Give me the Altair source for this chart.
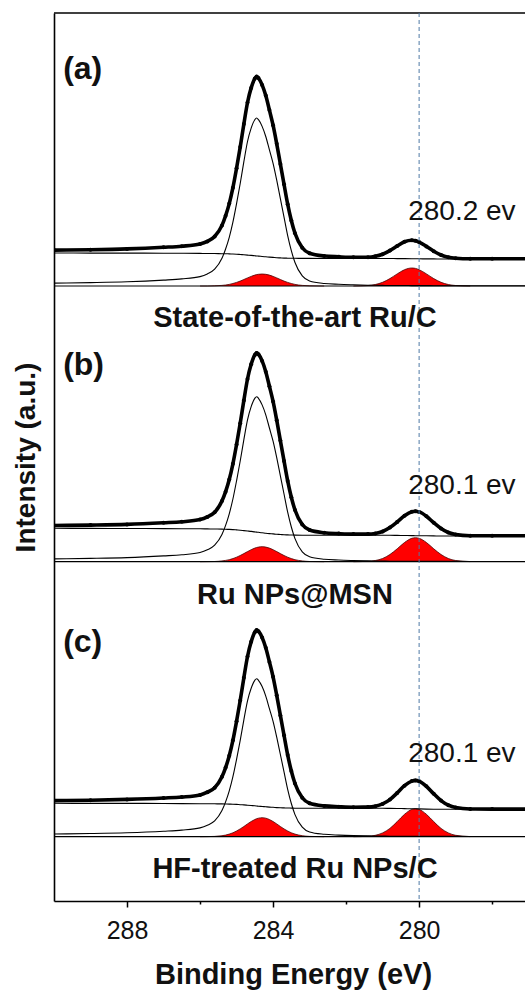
import altair as alt
import pandas as pd

# Binding energy grid (eV)
energy = [290.0, 289.0, 288.0, 287.0, 286.5, 286.0, 285.8, 285.6, 285.4, 285.3,
          285.2, 285.1, 285.0, 284.9, 284.8, 284.7, 284.6, 284.5, 284.45, 284.4,
          284.3, 284.2, 284.1, 284.0, 283.9, 283.8, 283.7, 283.6, 283.5, 283.4,
          283.2, 283.0, 282.6, 282.2, 281.8, 281.4, 281.2, 281.0, 280.8, 280.6,
          280.4, 280.2, 280.1, 280.0, 279.8, 279.6, 279.4, 279.2, 279.0, 278.6,
          278.0, 277.0]

panels = ["a", "b", "c"]
offsets = [615.0, 339.3, 64.3]          # vertical stacking offsets (a.u.)

# measured envelope (dotted thick curve), relative to each panel's offset
envelope_a = [35.9, 36.3, 37.1, 38.7, 39.8, 42.0, 44.6, 49.5, 60.6, 70.3,
              82.4, 98.3, 117.7, 138.9, 162.0, 183.5, 198.1, 207.4, 209.4, 207.9,
              201.1, 190.4, 175.9, 160.8, 142.2, 122.0, 101.7, 81.8, 65.5, 52.8,
              38.3, 32.8, 30.0, 29.2, 28.7, 28.8, 29.7, 31.8, 35.4, 40.0,
              44.2, 45.7, 45.2, 43.9, 39.6, 34.8, 31.0, 28.8, 27.8, 27.2,
              27.2, 27.2]
envelope_b = [36.2, 36.6, 37.3, 38.9, 39.9, 42.1, 44.8, 49.4, 60.6, 70.0,
              82.2, 97.9, 117.2, 138.4, 161.3, 182.7, 197.4, 206.8, 208.8, 207.4,
              200.8, 190.0, 175.4, 160.3, 141.5, 121.1, 100.8, 80.8, 64.5, 51.7,
              37.2, 31.7, 29.0, 28.1, 27.6, 27.6, 28.3, 30.2, 34.1, 39.7,
              45.9, 49.9, 50.4, 49.8, 45.5, 39.0, 33.2, 29.2, 27.2, 26.0,
              25.9, 25.9]
envelope_c = [36.1, 36.5, 37.3, 38.7, 39.7, 41.8, 44.5, 49.0, 59.9, 69.1,
              81.0, 96.4, 115.4, 136.2, 158.9, 180.2, 194.9, 204.5, 206.7, 205.4,
              199.3, 189.0, 174.8, 159.9, 141.4, 121.3, 101.4, 81.8, 65.7, 53.2,
              39.0, 33.5, 30.8, 30.0, 29.5, 29.6, 30.5, 32.8, 37.1, 43.8,
              51.0, 55.6, 56.3, 55.5, 50.4, 42.9, 36.1, 31.5, 29.1, 27.7,
              27.6, 27.6]

# Shirley-type background
background_a = [33.0, 32.9, 32.9, 32.8, 32.7, 32.6, 32.5, 32.5, 32.3, 32.3,
                32.1, 32.0, 31.8, 31.5, 31.2, 30.9, 30.6, 30.2, 30.0, 29.9,
                29.5, 29.2, 28.9, 28.6, 28.3, 28.1, 27.9, 27.8, 27.7, 27.7,
                27.6, 27.6, 27.5, 27.5, 27.5, 27.5, 27.5, 27.5, 27.5, 27.4,
                27.4, 27.3, 27.2, 27.2, 27.1, 27.1, 27.0, 27.0, 27.0, 27.0,
                27.0, 27.0]
background_b = [33.4, 33.3, 33.2, 33.1, 33.0, 32.9, 32.8, 32.7, 32.6, 32.4,
                32.3, 32.1, 31.8, 31.5, 31.1, 30.7, 30.3, 29.8, 29.6, 29.4,
                29.0, 28.5, 28.1, 27.8, 27.4, 27.2, 26.9, 26.8, 26.7, 26.6,
                26.5, 26.5, 26.5, 26.4, 26.4, 26.4, 26.4, 26.4, 26.4, 26.3,
                26.2, 26.1, 26.0, 26.0, 25.9, 25.8, 25.7, 25.7, 25.7, 25.7,
                25.7, 25.7]
background_c = [33.4, 33.3, 33.3, 33.2, 33.1, 33.0, 33.0, 32.9, 32.8, 32.7,
                32.6, 32.5, 32.3, 32.0, 31.8, 31.5, 31.2, 30.9, 30.7, 30.5,
                30.2, 29.9, 29.6, 29.4, 29.1, 28.9, 28.8, 28.7, 28.6, 28.5,
                28.5, 28.5, 28.4, 28.4, 28.4, 28.4, 28.4, 28.4, 28.3, 28.2,
                28.1, 27.9, 27.9, 27.8, 27.6, 27.5, 27.5, 27.4, 27.4, 27.4,
                27.4, 27.4]

# main fitted component (thin line)
main_a = [2.9, 3.4, 4.2, 5.9, 7.1, 9.4, 12.1, 16.8, 27.7, 37.0,
          48.7, 63.8, 82.3, 102.5, 124.3, 144.5, 157.9, 166.3, 168.0, 166.3,
          159.6, 149.5, 136.1, 122.6, 105.8, 87.4, 68.9, 50.4, 35.3, 23.5,
          10.1, 5.0, 2.5, 1.7, 1.2, 0.8, 0.7, 0.6, 0.5, 0.5,
          0.5, 0.4, 0.4, 0.4, 0.4, 0.3, 0.3, 0.3, 0.3, 0.2,
          0.2, 0.2]
main_b = [2.8, 3.3, 4.1, 5.8, 6.9, 9.2, 11.9, 16.5, 27.2, 36.3,
          47.9, 62.7, 80.9, 100.7, 122.1, 141.9, 155.1, 163.4, 165.0, 163.4,
          156.8, 146.9, 133.7, 120.5, 104.0, 85.8, 67.7, 49.5, 34.7, 23.1,
          9.9, 5.0, 2.5, 1.7, 1.2, 0.8, 0.7, 0.6, 0.5, 0.5,
          0.5, 0.4, 0.4, 0.4, 0.4, 0.3, 0.3, 0.3, 0.3, 0.2,
          0.2, 0.2]
main_c = [2.7, 3.2, 4.0, 5.5, 6.6, 8.8, 11.4, 15.8, 26.1, 34.8,
          45.8, 60.0, 77.4, 96.4, 116.9, 135.9, 148.5, 156.4, 158.0, 156.4,
          150.1, 140.6, 128.0, 115.3, 99.5, 82.2, 64.8, 47.4, 33.2, 22.1,
          9.5, 4.7, 2.4, 1.6, 1.1, 0.8, 0.7, 0.6, 0.5, 0.5,
          0.5, 0.4, 0.4, 0.4, 0.4, 0.3, 0.3, 0.3, 0.3, 0.2,
          0.2, 0.2]

# red component near 284.3 eV
red1_a = [0, 0, 0, 0, 0, 0, 0.0, 0.2, 0.6, 1.0,
          1.6, 2.5, 3.6, 4.9, 6.5, 8.1, 9.6, 10.9, 11.4, 11.7,
          12.0, 11.7, 10.9, 9.6, 8.1, 6.5, 4.9, 3.6, 2.5, 1.6,
          0.6, 0.2, 0, 0, 0, 0, 0, 0, 0, 0,
          0, 0, 0, 0, 0, 0, 0, 0, 0, 0,
          0, 0]
red1_b = [0, 0, 0, 0, 0, 0, 0.1, 0.2, 0.8, 1.3,
          2.0, 3.1, 4.5, 6.2, 8.1, 10.1, 12.0, 13.6, 14.2, 14.6,
          15.0, 14.6, 13.6, 12.0, 10.1, 8.1, 6.2, 4.5, 3.1, 2.0,
          0.8, 0.2, 0, 0, 0, 0, 0, 0, 0, 0,
          0, 0, 0, 0, 0, 0, 0, 0, 0, 0,
          0, 0]
red1_c = [0, 0, 0, 0, 0, 0, 0.1, 0.3, 1.0, 1.6,
          2.6, 3.9, 5.7, 7.8, 10.2, 12.8, 15.2, 17.2, 18.0, 18.5,
          19.0, 18.5, 17.2, 15.2, 12.8, 10.2, 7.8, 5.7, 3.9, 2.6,
          1.0, 0.3, 0, 0, 0, 0, 0, 0, 0, 0,
          0, 0, 0, 0, 0, 0, 0, 0, 0, 0,
          0, 0]

# red component near 280.1 eV (Ru 3d5/2)
red2_a = [0, 0, 0, 0, 0, 0, 0, 0, 0, 0,
          0, 0, 0, 0, 0, 0, 0, 0, 0, 0,
          0, 0, 0, 0, 0, 0, 0, 0, 0, 0,
          0, 0, 0, 0, 0.0, 0.5, 1.5, 3.7, 7.4, 12.1,
          16.3, 18.0, 17.6, 16.3, 12.1, 7.4, 3.7, 1.5, 0.5, 0.0,
          0, 0]
red2_b = [0, 0, 0, 0, 0, 0, 0, 0, 0, 0,
          0, 0, 0, 0, 0, 0, 0, 0, 0, 0,
          0, 0, 0, 0, 0, 0, 0, 0, 0, 0,
          0, 0, 0, 0, 0.0, 0.4, 1.2, 3.2, 7.2, 12.9,
          19.2, 23.4, 24.0, 23.4, 19.2, 12.9, 7.2, 3.2, 1.2, 0.1,
          0, 0]
red2_c = [0, 0, 0, 0, 0, 0, 0, 0, 0, 0,
          0, 0, 0, 0, 0, 0, 0, 0, 0, 0,
          0, 0, 0, 0, 0, 0, 0, 0, 0, 0,
          0, 0, 0, 0, 0.0, 0.4, 1.4, 3.8, 8.3, 15.1,
          22.4, 27.3, 28.0, 27.3, 22.4, 15.1, 8.3, 3.8, 1.4, 0.1,
          0, 0]

# annotations
panel_tags = ["(a)", "(b)", "(c)"]
tag_y = [832, 536, 259]
sample_names = ["State-of-the-art Ru/C", "Ru NPs@MSN", "HF-treated Ru NPs/C"]
sample_y = [583, 306, 32]
peak_labels = ["280.2 ev", "280.1 ev", "280.1 ev"]
peak_label_y = [689, 415, 147]
ref_energy = [280.0]

Y_MAX = 888.0

# ---- build tables ----
envs = [envelope_a, envelope_b, envelope_c]
bgs = [background_a, background_b, background_c]
mains = [main_a, main_b, main_c]
r1s = [red1_a, red1_b, red1_c]
r2s = [red2_a, red2_b, red2_c]

rows = []
for p, off, env, bg, mn, r1, r2 in zip(panels, offsets, envs, bgs, mains, r1s, r2s):
    for e, ve, vb, vm, v1, v2 in zip(energy, env, bg, mn, r1, r2):
        rows.append(dict(panel=p, energy=e, base=off, envelope=off + ve,
                         background=off + vb, main=off + vm,
                         red1=off + v1, red2=off + v2))
df = pd.DataFrame(rows)
df_off = pd.DataFrame({"panel": panels, "base": offsets})
df_tags = pd.DataFrame({"energy": [289.75] * 3, "y": tag_y, "label": panel_tags})
df_names = pd.DataFrame({"energy": [283.4] * 3, "y": sample_y, "label": sample_names})
df_peaks = pd.DataFrame({"energy": [280.3] * 3, "y": peak_label_y, "label": peak_labels})
df_ref = pd.DataFrame({"energy": ref_energy})
df_top = pd.DataFrame({"y": [Y_MAX]})

FONT = "Liberation Sans"

xscale = alt.Scale(domain=[277.1, 290.0], reverse=True, nice=False, zero=False)
yscale = alt.Scale(domain=[0, Y_MAX], nice=False, zero=False)

xaxis = alt.Axis(
    values=[288, 286, 284, 282, 280, 278],
    labelExpr="datum.value % 4 === 0 ? datum.label : ''",
    tickSize={"condition": {"test": "datum.value % 4 === 0", "value": 6}, "value": 3},
    tickColor="black", tickWidth=1.5, domainColor="black", domainWidth=1.6,
    labelFont=FONT, labelFontSize=25, labelColor="#111", labelPadding=11,
    title="Binding Energy (eV)", titleFont=FONT, titleFontSize=29,
    titleFontWeight="bold", titleColor="#111", titleBaseline="alphabetic",
    titleY=82, titleX=239, grid=False,
)
yaxis = alt.Axis(
    ticks=False, labels=False, grid=False, domainColor="black", domainWidth=1.6,
    title="Intensity (a.u.)", titleFont=FONT, titleFontSize=28,
    titleFontWeight="bold", titleColor="#111", titleAngle=-90,
    titleBaseline="middle", titleAlign="center", titleX=-28, titleY=444,
)


def X(field="energy"):
    return alt.X(f"{field}:Q", scale=xscale, axis=xaxis)


def Y(field):
    return alt.Y(f"{field}:Q", scale=yscale, axis=yaxis)


base = alt.Chart(df)

red1_layer = base.transform_filter("datum.energy <= 286 && datum.energy >= 282.6").mark_area(
    color="#ff0000", opacity=1, fillOpacity=1, interpolate="monotone", clip=True,
    line={"color": "#4a0000", "strokeWidth": 0.8},
).encode(x=X(), y=Y("red1"), y2="base:Q", detail="panel:N")

red2_layer = base.transform_filter("datum.energy <= 281.8 && datum.energy >= 278.6").mark_area(
    color="#ff0000", opacity=1, fillOpacity=1, interpolate="monotone", clip=True,
    line={"color": "#4a0000", "strokeWidth": 0.8},
).encode(x=X(), y=Y("red2"), y2="base:Q", detail="panel:N")

baselines = alt.Chart(df_off).mark_rule(color="black", strokeWidth=1.2).encode(y=Y("base"))

top_line = alt.Chart(df_top).mark_rule(color="black", strokeWidth=1.5).encode(y=Y("y"))

bg_layer = base.mark_line(color="black", strokeWidth=1.1, interpolate="monotone", clip=True).encode(
    x=X(), y=Y("background"), detail="panel:N")

main_layer = base.mark_line(color="black", strokeWidth=1.1, interpolate="monotone", clip=True).encode(
    x=X(), y=Y("main"), detail="panel:N")

env_line = base.mark_line(color="black", strokeWidth=3.6, interpolate="monotone", clip=True).encode(
    x=X(), y=Y("envelope"), detail="panel:N")

env_dots = base.mark_circle(color="black", size=16, opacity=1, clip=True).encode(
    x=X(), y=Y("envelope"))

ref_line = alt.Chart(df_ref).mark_rule(color="#4f7aa5", strokeWidth=1, strokeDash=[4, 3]).encode(
    x=X())

tags = alt.Chart(df_tags).mark_text(font=FONT, fontSize=32, fontWeight="bold", align="left",
                                    baseline="middle", color="#111").encode(
    x=X(), y=Y("y"), text="label:N")

names = alt.Chart(df_names).mark_text(font=FONT, fontSize=29, fontWeight="bold", align="center",
                                      baseline="middle", color="#111").encode(
    x=X(), y=Y("y"), text="label:N")

peaks = alt.Chart(df_peaks).mark_text(font=FONT, fontSize=28, align="left",
                                      baseline="middle", color="#111").encode(
    x=X(), y=Y("y"), text="label:N")

chart = alt.layer(
    red1_layer, red2_layer, baselines, top_line, bg_layer, main_layer,
    env_line, env_dots, ref_line, tags, names, peaks,
).properties(
    width=471, height=888,
    autosize=alt.AutoSizeParams(type="none"),
    padding={"left": 54, "top": 13, "right": 0, "bottom": 95},
    background="white",
).configure_view(stroke=None)

chart.save("out.html", embed_options={"renderer": "svg", "actions": False})
